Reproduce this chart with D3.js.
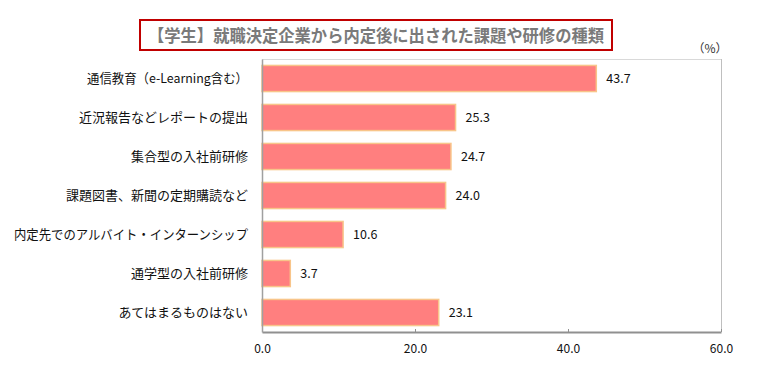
<!DOCTYPE html>
<html><head><meta charset="utf-8">
<script src="https://cdn.jsdelivr.net/npm/d3@7/dist/d3.min.js"></script>
<style>body{margin:0;background:#fff;} svg{display:block;}</style>
</head><body>
<svg id="c" width="771" height="369"></svg>
<script>
const categories = ["通信教育（e-Learning含む）","近況報告などレポートの提出","集合型の入社前研修","課題図書、新聞の定期購読など","内定先でのアルバイト・インターンシップ","通学型の入社前研修","あてはまるものはない"];
const values = [43.7, 25.3, 24.7, 24.0, 10.6, 3.7, 23.1];
const xTicks = [0, 20, 40, 60];
const titleText = "【学生】就職決定企業から内定後に出された課題や研修の種類";
const unitText = "（%）";

const svg = d3.select("#c");
const font = "'Noto Sans CJK JP', 'Noto Sans', sans-serif";
const L = 262, R = 721, T = 59, B = 332;
const x = d3.scaleLinear().domain([0, 60]).range([L, R]);
const y = d3.scaleBand().domain(categories).range([T, B]).paddingInner(0.33).paddingOuter(0.165);

// plot border top/right
svg.append("line").attr("x1", L).attr("x2", R).attr("y1", T+0.5).attr("y2", T+0.5).attr("stroke", "#d9d9d9");
svg.append("line").attr("x1", R+0.5).attr("x2", R+0.5).attr("y1", T).attr("y2", B).attr("stroke", "#bfbfbf");

// bars
svg.selectAll("rect.bar").data(values).enter().append("rect")
  .attr("x", x(0)).attr("y", (d,i) => y(categories[i]))
  .attr("width", d => x(d) - x(0)).attr("height", y.bandwidth())
  .attr("fill", "#FF7F7F").attr("stroke", "#F8C58A").attr("stroke-width", 1.5);

// value labels
svg.selectAll("text.val").data(values).enter().append("text")
  .attr("x", d => x(d) + 10).attr("y", (d,i) => y(categories[i]) + y.bandwidth()/2)
  .attr("dy", "0.35em").attr("font-family", font).attr("font-size", 12.5).attr("fill", "#111")
  .text(d => d.toFixed(1));

// x axis
const xa = svg.append("g").attr("transform", `translate(0,${B})`)
  .call(d3.axisBottom(x).tickValues(xTicks).tickFormat(d => d.toFixed(1)).tickSizeInner(-3).tickSizeOuter(0).tickPadding(12));
xa.select(".domain").attr("stroke", "#909090").attr("stroke-width", 2);
xa.selectAll(".tick line").attr("stroke", "#909090");
xa.selectAll("text").attr("font-family", font).attr("font-size", 12).attr("fill", "#111");

// y axis
const ya = svg.append("g").attr("transform", `translate(${L},0)`)
  .call(d3.axisLeft(y).tickSize(0).tickPadding(14));
ya.select(".domain").attr("stroke", "#a0a0a0").attr("stroke-width", 1.5);
ya.selectAll("text").attr("font-family", font).attr("font-size", 13).attr("fill", "#111")
  .each(function() {
    const w = this.getComputedTextLength();
    if (w > 234) d3.select(this).attr("textLength", 234).attr("lengthAdjust", "spacingAndGlyphs");
    else if (/e-Learning/.test(this.textContent) && w > 161) d3.select(this).attr("textLength", 161).attr("lengthAdjust", "spacingAndGlyphs");
  });

// unit
svg.append("text").attr("x", 710).attr("y", 53).attr("text-anchor", "middle")
  .attr("font-family", font).attr("font-size", 12).attr("fill", "#333").text(unitText);

// title
svg.append("rect").attr("x", 140).attr("y", 20).attr("width", 472).attr("height", 30)
  .attr("fill", "#fff").attr("stroke", "#C00000").attr("stroke-width", 2);
svg.append("text").attr("x", 376).attr("y", 36).attr("dy", "0.35em").attr("text-anchor", "middle")
  .attr("font-family", font).attr("font-size", 17).attr("font-weight", "bold").attr("fill", "#7a7a7a")
  .attr("textLength", 456).attr("lengthAdjust", "spacingAndGlyphs")
  .text(titleText);
</script>
</body></html>
